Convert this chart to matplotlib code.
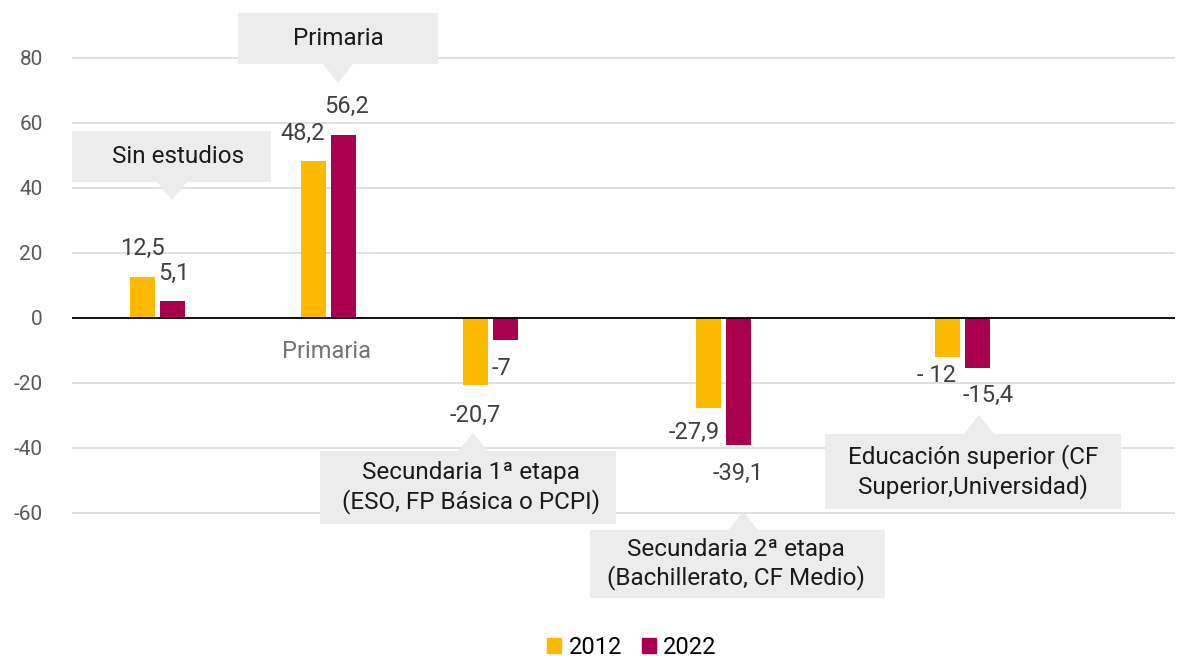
import matplotlib.pyplot as plt
import matplotlib.transforms as mtransforms
from matplotlib.patches import Rectangle, Polygon, Patch
import numpy as np

plt.rcParams['font.family'] = ['Roboto', 'DejaVu Sans']
plt.rcParams['axes.unicode_minus'] = False

categories = ['Sin estudios', 'Primaria',
              'Secundaria 1ª etapa\n(ESO, FP Básica o PCPI)',
              'Secundaria 2ª etapa\n(Bachillerato, CF Medio)',
              'Educación superior (CF\nSuperior,Universidad)']
v2012 = [12.5, 48.2, -20.7, -27.9, -12]
v2022 = [5.1, 56.2, -7, -39.1, -15.4]
lab2012 = ['12,5', '48,2', '-20,7', '-27,9', '- 12']
lab2022 = ['5,1', '56,2', '-7', '-39,1', '-15,4']
series = ['2012', '2022']

c2012 = '#FBB900'
c2022 = '#A8004F'

W, H = 1186, 656
fig = plt.figure(figsize=(W / 100, H / 100), dpi=100)
ax = fig.add_axes([72 / W, 56 / H, (1175 - 72) / W, 590 / H])

# group centres along the axis (pixel-like units)
group_x = np.array([157, 328, 490.5, 723, 962.5])
bw = 25
b1 = ax.bar(group_x - 15, v2012, bw, color=c2012, zorder=3)
b2 = ax.bar(group_x + 15, v2022, bw, color=c2022, zorder=3)

ax.set_xlim(72, 1175)
ax.set_ylim(-86.86, 94.68)
ax.set_yticks(range(-60, 81, 20))
ax.set_xticks([])
ax.yaxis.grid(True, color='#d9d9d9', lw=1.2, zorder=0)
ax.axhline(0, color='black', lw=1.3, zorder=4)
for s in ax.spines.values():
    s.set_visible(False)
ax.tick_params(axis='y', length=0, pad=21, labelsize=15, labelcolor='#595959')

# value labels, offsets in pixels from the bar end
off2012 = [(0, 29), (-10, 28), (0, -30), (-14, -24), (-11, -19)]
off2022 = [(2, 28), (4, 29), (-4, -28), (0, -29), (11, -28)]
for bars, vals, labs, offs in [(b1, v2012, lab2012, off2012), (b2, v2022, lab2022, off2022)]:
    for r, v, lab, (dx, dy) in zip(bars, vals, labs, offs):
        x = r.get_x() + r.get_width() / 2
        ax.annotate(lab, (x, v), xytext=(dx, dy), textcoords='offset pixels',
                    ha='center', va='center', fontsize=17, color='#404040')

# pixel transform (origin top-left) for callouts
pix = mtransforms.Affine2D().scale(1 / W, -1 / H).translate(0, 1) + fig.transFigure

fig.text(326, 351, 'Primaria', transform=pix, ha='center', va='center',
         fontsize=17, color='#737373')

# box: x0, y0, x1, y1 ; tip: x, y ; text shift
boxes = [(72, 131, 271, 182), (238, 13, 438, 64), (320, 451, 616, 524),
         (590, 530, 885, 598), (825, 434, 1121, 509)]
tips = [(172, 200), (338, 83), (473, 433), (743, 512), (979, 415)]
shifts = [7, 0, 3, -2, 0]
for name, (x0, y0, x1, y1), (tx, ty), sx in zip(categories, boxes, tips, shifts):
    fig.patches.append(Rectangle((x0, y0), x1 - x0, y1 - y0, transform=pix,
                                 fc='#ececec', ec='none'))
    by = y1 if ty > y1 else y0
    fig.patches.append(Polygon([(tx - 15, by), (tx + 15, by), (tx, ty)],
                               closed=True, transform=pix, fc='#ececec', ec='none'))
    fig.text((x0 + x1) / 2 + sx, (y0 + y1) / 2, name, transform=pix, ha='center',
             va='center', fontsize=17.5, color='#1a1a1a', linespacing=1.25)

handles = [Patch(color=c2012), Patch(color=c2022)]
fig.legend(handles, series, loc='center', bbox_to_anchor=(632 / W, 9 / H),
           ncol=2, frameon=False, fontsize=17, handlelength=0.6, handleheight=0.6,
           handletextpad=0.3, columnspacing=0.85, borderpad=0)

fig.savefig('out.png', dpi=100)
